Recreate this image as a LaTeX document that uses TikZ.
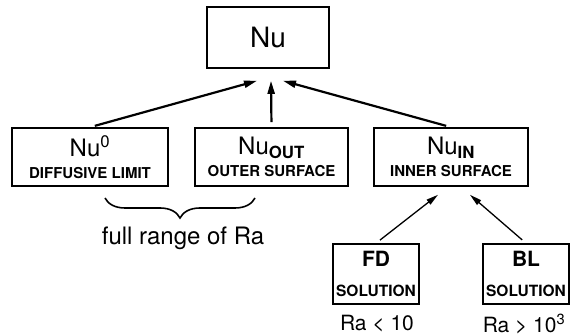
\documentclass[tikz,border=0pt]{standalone}
\usepackage{fontspec}
\setmainfont{TeX Gyre Heros}
\usetikzlibrary{arrows.meta, decorations.pathreplacing}

\begin{document}
\begin{tikzpicture}[x=1pt, y=1pt,
  box/.style={draw, line width=1.6pt, inner sep=0pt, align=center, font=\fontsize{15}{22}\selectfont\bfseries},
  solbox/.style={box, minimum width=86pt, minimum height=60pt, font=\fontsize{15.5}{30}\selectfont\bfseries},
  up/.style={-{Triangle[length=13pt, width=7pt]}, line width=2.2pt, shorten <=5pt},
  upthin/.style={-{Triangle[length=12pt, width=6pt]}, line width=1.3pt, shorten <=5pt},
  lbl/.style={inner sep=1pt, font=\fontsize{21}{24}\selectfont}
]
\useasboundingbox (0,0) rectangle (574,-336);

% top level
\node[box, minimum width=122pt, minimum height=61pt, font=\fontsize{28}{30}\selectfont] (nu) at (268,-37.5) {Nu};

% the three contributions
\node[box, minimum width=156pt, minimum height=58pt] (nu0) at (90,-157) {{\fontsize{24}{26}\selectfont\mdseries Nu\textsuperscript{0}}\\DIFFUSIVE LIMIT};
\node[box, minimum width=153pt, minimum height=58pt] (nuout) at (271.5,-157) {{\fontsize{24}{26}\selectfont\mdseries Nu\textsubscript{\bfseries OUT}}\\OUTER SURFACE};
\node[box, minimum width=154pt, minimum height=58pt] (nuin) at (451,-157) {{\fontsize{24}{26}\selectfont\mdseries Nu\textsubscript{\bfseries IN}}\\INNER SURFACE};

\draw[up] (nu0.north) -- ([xshift=-11pt, yshift=-12pt]nu.south);
\draw[up] (nuout.north) -- ([xshift=3pt, yshift=-12pt]nu.south);
\draw[up] (nuin.north) -- ([xshift=15pt, yshift=-12pt]nu.south);

% brace under the first two
\coordinate (brl) at (105,-198);
\coordinate (brr) at (255,-198);
\draw[decorate, decoration={brace, mirror, amplitude=20pt}, line width=1.6pt] (brl) -- (brr);
\node[font=\fontsize{24}{26}\selectfont] (range) at (183,-238) {full range of Ra};

% inner surface solutions
\node[solbox] (fd) at (376,-274) {{\fontsize{21}{24}\selectfont FD}\\SOLUTION};
\node[solbox] (bl) at (526,-274) {{\fontsize{21}{24}\selectfont BL}\\SOLUTION};

\draw[upthin] (fd.north) -- ([xshift=-13pt, yshift=-8pt]nuin.south);
\draw[upthin] (bl.north) -- ([xshift=19pt, yshift=-8pt]nuin.south);

\node[lbl] (rafd) at (377,-324) {Ra < 10};
\node[lbl] (rabl) at (524,-324) {Ra > 10\textsuperscript{3}};
\end{tikzpicture}
\end{document}
